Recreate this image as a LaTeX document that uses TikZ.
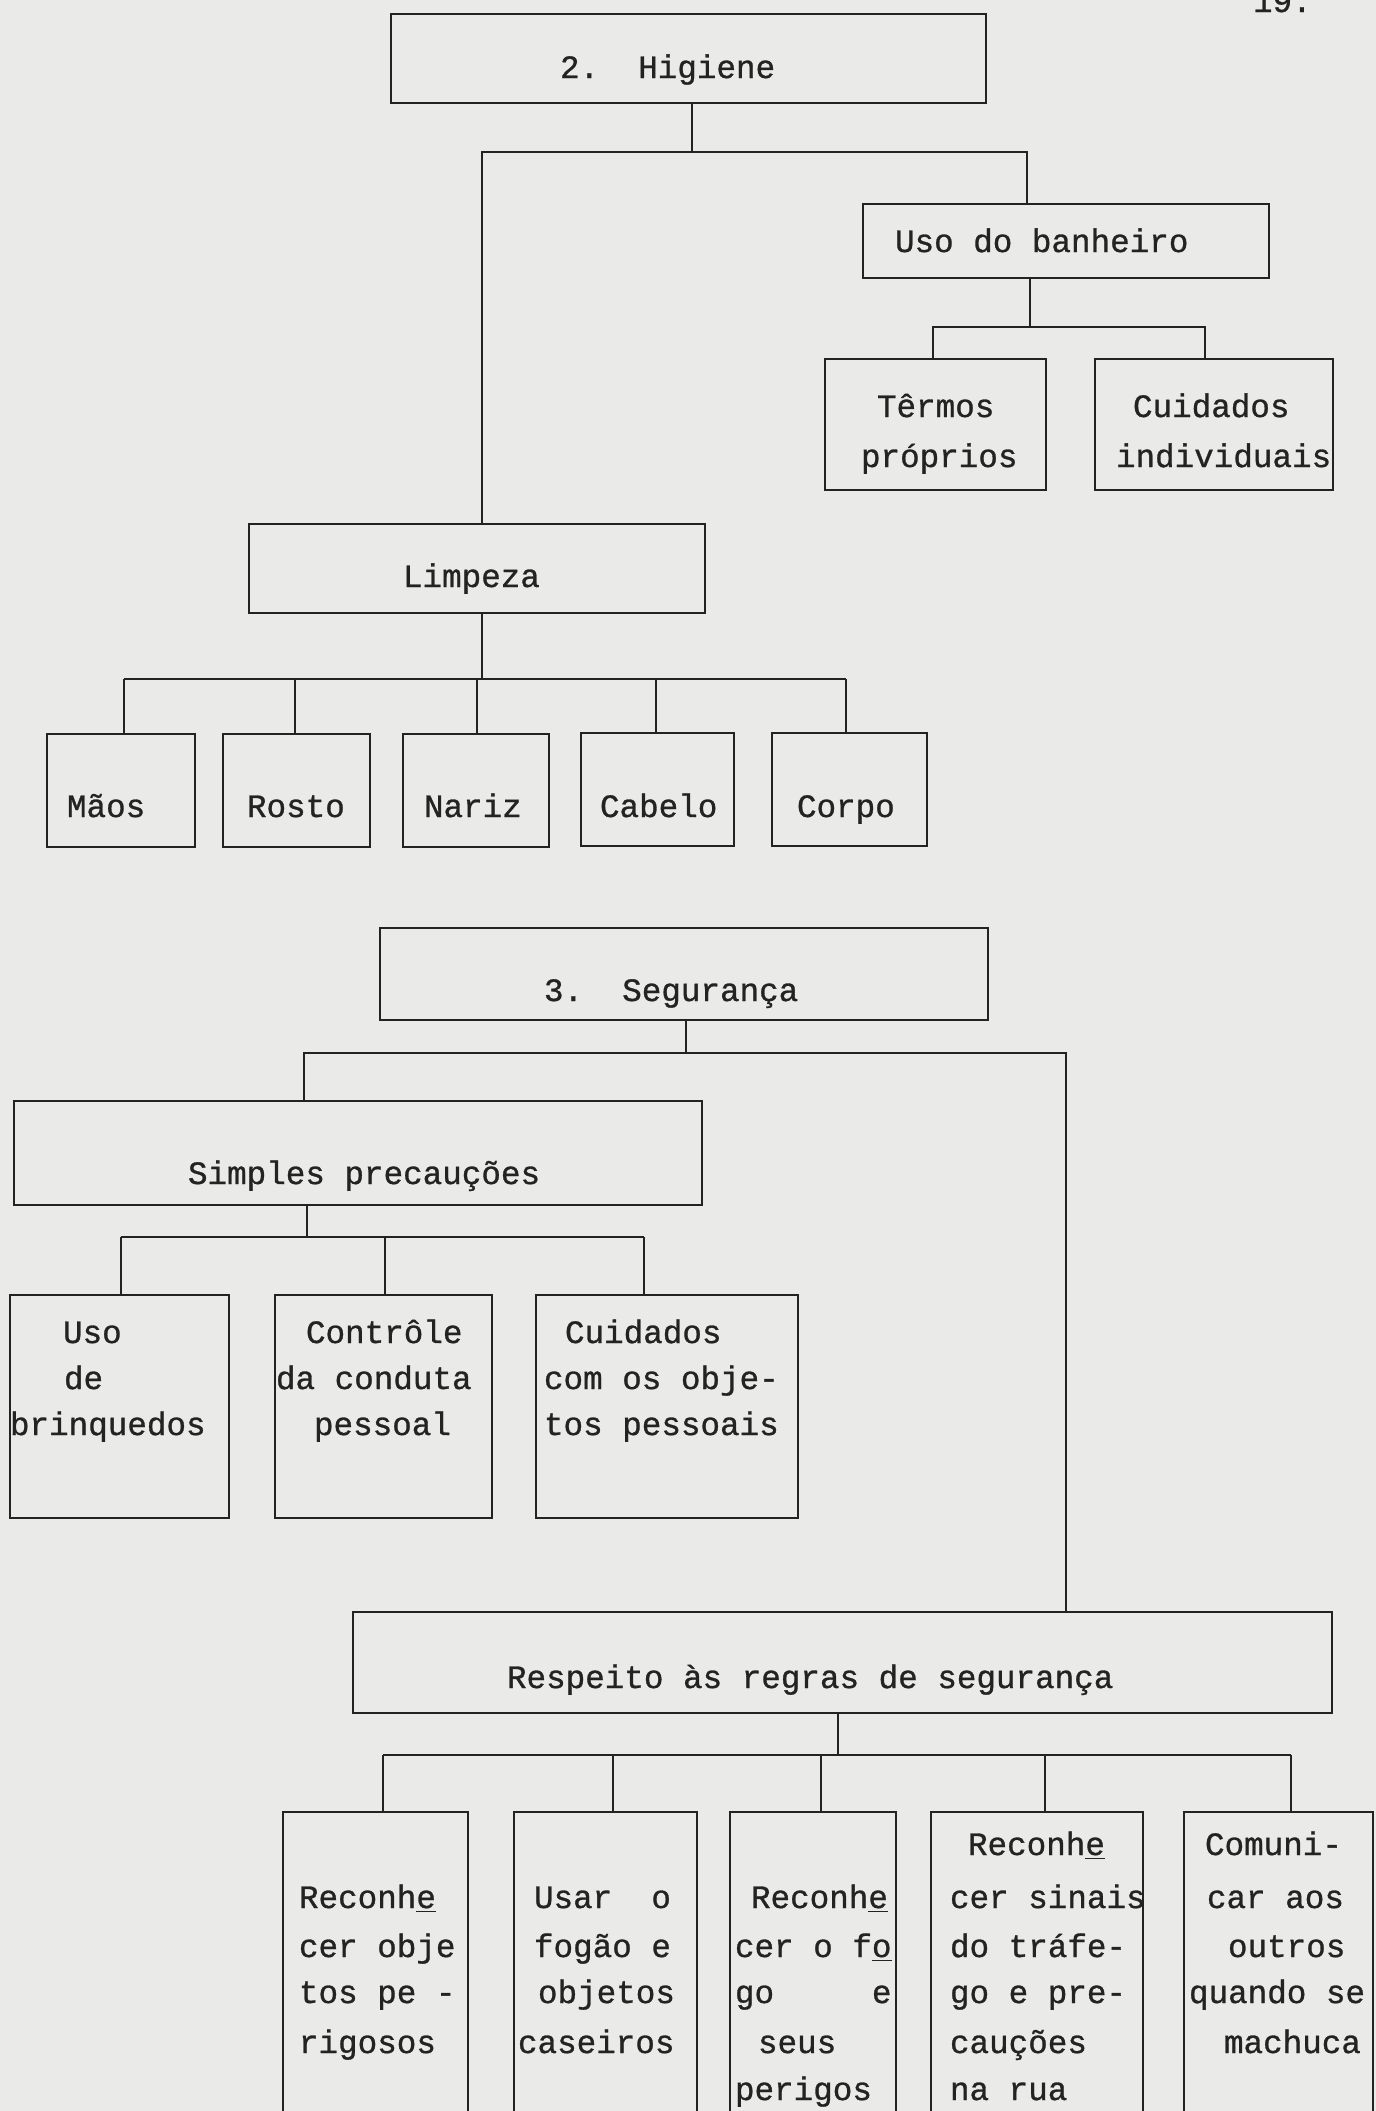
\documentclass[tikz,border=0pt]{standalone}
\usepackage{fontspec}
\newfontfamily\tymono[FakeBold=0.9]{Liberation Mono}
\definecolor{paper}{RGB}{234,234,232}
\definecolor{ink}{RGB}{35,35,35}
\tikzset{
  bx/.style={draw=ink, line width=1.2pt, inner sep=0pt, outer sep=0pt},
  tx/.style={anchor=base west, inner sep=0pt, outer sep=0pt, text=ink,
             font=\tymono\fontsize{16.3}{20}\selectfont},
  ln/.style={draw=ink, line width=1.2pt},
}
\newcommand\mkbox[5]{\node[bx, minimum width={(#3-#2)*0.5pt}, minimum height={(#5-#4)*0.5pt}] (#1) at ({(#2+#3)/2},{(#4+#5)/2}) {};}
\begin{document}
\begin{tikzpicture}[x=0.5pt, y=-0.5pt]
\useasboundingbox (0,0) rectangle (1376,2111);
\clip (0,0) rectangle (1376,2111);
\fill[paper] (0,0) rectangle (1376,2111);

% page number
\node[tx] (pg) at (1253,12) {19.};

% ---------- 2. Higiene ----------
\mkbox{hig}{391}{986}{14}{103}
\node[tx] (thig) at (560,78) {2.~~Higiene};
\mkbox{uso}{863}{1269}{204}{278}
\node[tx] (tuso) at (895,252) {Uso do banheiro};
\mkbox{termos}{825}{1046}{359}{490}
\node[tx] (ttermos1) at (877,417) {Têrmos};
\node[tx] (ttermos2) at (861,467) {próprios};
\mkbox{cuid}{1095}{1333}{359}{490}
\node[tx] (tcuid1) at (1133,417) {Cuidados};
\node[tx] (tcuid2) at (1116,467) {individuais};
\mkbox{limp}{249}{705}{524}{613}
\node[tx] (tlimp) at (403,587) {Limpeza};
\mkbox{maos}{47}{195}{734}{847}
\mkbox{rosto}{223}{370}{734}{847}
\mkbox{nariz}{403}{549}{734}{847}
\mkbox{cabelo}{581}{734}{733}{846}
\mkbox{corpo}{772}{927}{733}{846}
\node[tx] (tmaos) at (67,817) {Mãos};
\node[tx] (trosto) at (247,817) {Rosto};
\node[tx] (tnariz) at (424,817) {Nariz};
\node[tx] (tcabelo) at (600,817) {Cabelo};
\node[tx] (tcorpo) at (797,817) {Corpo};

% connectors Higiene
\coordinate (hb) at (692,152);
\coordinate (hbL) at (482,152);
\coordinate (hbR) at (1027,152);
\draw[ln] (hig.south -| hb) -- (hb);
\draw[ln] (limp.north -| hbL) -- (hbL) -- (hbR) -- (uso.north -| hbR);
\coordinate (ub) at (1030,327);
\coordinate (ubL) at (933,327);
\coordinate (ubR) at (1205,327);
\draw[ln] (uso.south -| ub) -- (ub);
\draw[ln] (termos.north -| ubL) -- (ubL) -- (ubR) -- (cuid.north -| ubR);
\coordinate (lb) at (482,679);
\coordinate (lb1) at (124,679);
\coordinate (lb2) at (295,679);
\coordinate (lb3) at (477,679);
\coordinate (lb4) at (656,679);
\coordinate (lb5) at (846,679);
\draw[ln] (limp.south -| lb) -- (lb);
\draw[ln] (lb1) -- (lb5);
\draw[ln] (lb1) -- (maos.north -| lb1);
\draw[ln] (lb2) -- (rosto.north -| lb2);
\draw[ln] (lb3) -- (nariz.north -| lb3);
\draw[ln] (lb4) -- (cabelo.north -| lb4);
\draw[ln] (lb5) -- (corpo.north -| lb5);

% ---------- 3. Segurança ----------
\mkbox{seg}{380}{988}{928}{1020}
\node[tx] (tseg) at (544,1001) {3.~~Segurança};
\mkbox{simp}{14}{702}{1101}{1205}
\node[tx] (tsimp) at (188,1184) {Simples precauções};
\mkbox{brinq}{10}{229}{1295}{1518}
\node[tx] (tbr1) at (63,1343) {Uso};
\node[tx] (tbr2) at (64,1389) {de};
\node[tx] (tbr3) at (10,1435) {brinquedos};
\mkbox{contr}{275}{492}{1295}{1518}
\node[tx] (tco1) at (306,1343) {Contrôle};
\node[tx] (tco2) at (276,1389) {da conduta};
\node[tx] (tco3) at (314,1435) {pessoal};
\mkbox{cobj}{536}{798}{1295}{1518}
\node[tx] (tcb1) at (565,1343) {Cuidados};
\node[tx] (tcb2) at (544,1389) {com os obje-};
\node[tx] (tcb3) at (544,1435) {tos pessoais};
\mkbox{resp}{353}{1332}{1612}{1713}
\node[tx] (tresp) at (507,1688) {Respeito às regras de segurança};

\mkbox{ba}{283}{468}{1812}{2140}
\node[tx] (ta1) at (299,1908) {Reconh\underline{e}};
\node[tx] (ta2) at (299,1957) {cer obje};
\node[tx] (ta3) at (299,2003) {tos pe -};
\node[tx] (ta4) at (299,2053) {rigosos};
\mkbox{bb}{514}{697}{1812}{2140}
\node[tx] (tb1) at (534,1908) {Usar~~o};
\node[tx] (tb2) at (534,1957) {fogão e};
\node[tx] (tb3) at (538,2003) {objetos};
\node[tx] (tb4) at (518,2053) {caseiros};
\mkbox{bc}{730}{896}{1812}{2140}
\node[tx] (tc1) at (751,1908) {Reconh\underline{e}};
\node[tx] (tc2) at (735,1957) {cer o f\underline{o}};
\node[tx] (tc3) at (735,2003) {go~~~~~e};
\node[tx] (tc4) at (758,2053) {seus};
\node[tx] (tc5) at (735,2100) {perigos};
\mkbox{bd}{931}{1143}{1812}{2140}
\node[tx] (td1) at (968,1855) {Reconh\underline{e}};
\node[tx] (td2) at (950,1908) {cer sinais};
\node[tx] (td3) at (950,1957) {do tráfe-};
\node[tx] (td4) at (950,2003) {go e pre-};
\node[tx] (td5) at (950,2053) {cauções};
\node[tx] (td6) at (950,2100) {na rua};
\mkbox{be}{1184}{1373}{1812}{2140}
\node[tx] (te1) at (1205,1855) {Comuni-};
\node[tx] (te2) at (1207,1908) {car aos};
\node[tx] (te3) at (1228,1957) {outros};
\node[tx] (te4) at (1189,2003) {quando se};
\node[tx] (te5) at (1224,2053) {machuca};

% connectors Segurança
\coordinate (sb) at (686,1053);
\coordinate (sbL) at (304,1053);
\coordinate (sbR) at (1066,1053);
\draw[ln] (seg.south -| sb) -- (sb);
\draw[ln] (simp.north -| sbL) -- (sbL) -- (sbR) -- (resp.north -| sbR);
\coordinate (pb) at (307,1237);
\coordinate (pb1) at (121,1237);
\coordinate (pb2) at (385,1237);
\coordinate (pb3) at (644,1237);
\draw[ln] (simp.south -| pb) -- (pb);
\draw[ln] (pb1) -- (pb3);
\draw[ln] (pb1) -- (brinq.north -| pb1);
\draw[ln] (pb2) -- (contr.north -| pb2);
\draw[ln] (pb3) -- (cobj.north -| pb3);
\coordinate (rb) at (838,1755);
\coordinate (rb1) at (383,1755);
\coordinate (rb2) at (613,1755);
\coordinate (rb3) at (821,1755);
\coordinate (rb4) at (1045,1755);
\coordinate (rb5) at (1291,1755);
\draw[ln] (resp.south -| rb) -- (rb);
\draw[ln] (rb1) -- (rb5);
\draw[ln] (rb1) -- (ba.north -| rb1);
\draw[ln] (rb2) -- (bb.north -| rb2);
\draw[ln] (rb3) -- (bc.north -| rb3);
\draw[ln] (rb4) -- (bd.north -| rb4);
\draw[ln] (rb5) -- (be.north -| rb5);
\end{tikzpicture}
\end{document}
